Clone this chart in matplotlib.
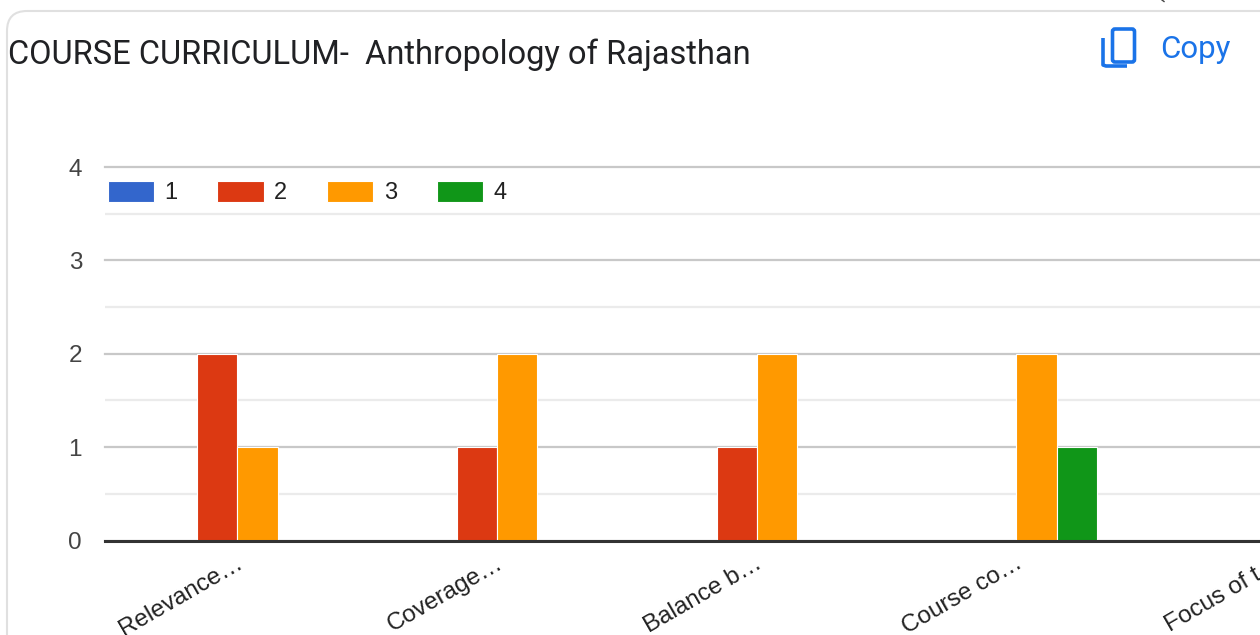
#!/usr/bin/env python3
# Grouped bar card: COURSE CURRICULUM ratings, cropped at the right edge like the original.
import numpy as np
import matplotlib
matplotlib.use("Agg")
import matplotlib.pyplot as plt
from matplotlib.patches import FancyBboxPatch

W, H = 1260, 635

TITLE = "COURSE CURRICULUM-  Anthropology of Rajasthan"
CATEGORIES = ["Relevance…", "Coverage…", "Balance b…", "Course co…", "Focus of t…"]
SERIES_NAMES = ["1", "2", "3", "4"]
SERIES_1 = [0, 0, 0, 0, 0]
SERIES_2 = [2, 1, 1, 0, 0]
SERIES_3 = [1, 2, 2, 2, 0]
SERIES_4 = [0, 0, 0, 1, 0]
COLORS = ["#3366cc", "#dc3912", "#ff9900", "#109618"]
Y_TICKS = [0, 1, 2, 3, 4]
Y_MINOR = [0.5, 1.5, 2.5, 3.5]

fig = plt.figure(figsize=(W / 100, H / 100), dpi=100, facecolor="white")

# full-figure layer in pixel coordinates for the card and the copy button
bg = fig.add_axes([0, 0, 1, 1], zorder=0)
bg.set_xlim(0, W)
bg.set_ylim(H, 0)
bg.axis("off")
bg.add_patch(FancyBboxPatch((7, 11), W + 60, H + 60,
                            boxstyle="round,pad=0,rounding_size=20",
                            fc="white", ec="#e0e0e0", lw=1.5))
bg.text(8, 54.5, TITLE, family="Roboto", fontsize=23.5, color="#202124",
        ha="left", va="center")
bg.text(1160, 50, "Copy", family="Roboto", fontsize=22.5,
        color="#1a73e8", ha="left", va="center")
# copy icon
bg.add_patch(FancyBboxPatch((1112.5, 29), 22, 33, boxstyle="round,pad=0,rounding_size=2.5",
                            fc="none", ec="#1a73e8", lw=2.6))
bg.plot([1103, 1103, 1106, 1127], [38, 65, 66, 66], color="#1a73e8", lw=2.6,
        solid_capstyle="butt", solid_joinstyle="round")
bg.plot([1162, 1164], [0, 1.5], color="#444444", lw=1)

# chart axes, right side runs off the figure
left, right, top, base = 105, 1260, 167, 540.5
ax = fig.add_axes([left / W, 1 - base / H, (right - left) / W, (base - top) / H], zorder=1)
ax.patch.set_alpha(0)
x = np.arange(len(CATEGORIES))
bar_w = 0.155

all_series = [SERIES_1, SERIES_2, SERIES_3, SERIES_4]
for i, (vals, name, col) in enumerate(zip(all_series, SERIES_NAMES, COLORS)):
    ax.bar(x + (i - 1.5) * bar_w, vals, bar_w, color=col, edgecolor="white",
           linewidth=0.8, label=name, zorder=3)

ax.set_yticks(Y_TICKS)
ax.set_yticks(Y_MINOR, minor=True)
ax.set_xticks(x)
ax.set_xticklabels([])
# set_xticks widens the view, so the limits come after it
ax.set_xlim(-0.51, 3.938)
ax.set_ylim(0, 4)
ax.grid(axis="y", which="major", color="#c8c8c8", lw=1.6, zorder=1, clip_on=False)
ax.grid(axis="y", which="minor", color="#ebebeb", lw=1.6, zorder=1)
ax.tick_params(axis="both", which="both", length=0)
ax.tick_params(axis="y", labelsize=17.5, labelcolor="#444444", pad=16.5)
for lab in ax.get_yticklabels():
    lab.set_family("Liberation Sans")
for s in ["top", "right", "left"]:
    ax.spines[s].set_visible(False)
ax.spines["bottom"].set_color("#333333")
ax.spines["bottom"].set_linewidth(2.2)
ax.spines["bottom"].set_zorder(5)

for xi, cat in zip(x, CATEGORIES):
    # labels end just past the group centre, rotated up to the right
    ax.annotate(cat, (xi, 0), xytext=(-1.3, -8.5), textcoords="offset points",
                rotation=30, rotation_mode="anchor", ha="right", va="top",
                family="Liberation Sans", fontsize=17.5, color="#222222",
                annotation_clip=False)

leg = ax.legend(loc="upper left", bbox_to_anchor=(0.0022, 0.9637), ncol=4, frameon=False,
                prop={"family": "Liberation Sans", "size": 17},
                handlelength=1.95, handleheight=1.0, handletextpad=0.45,
                columnspacing=1.7, borderpad=0, borderaxespad=0)
for t in leg.get_texts():
    t.set_color("#222222")

fig.savefig("out.png", dpi=100)
